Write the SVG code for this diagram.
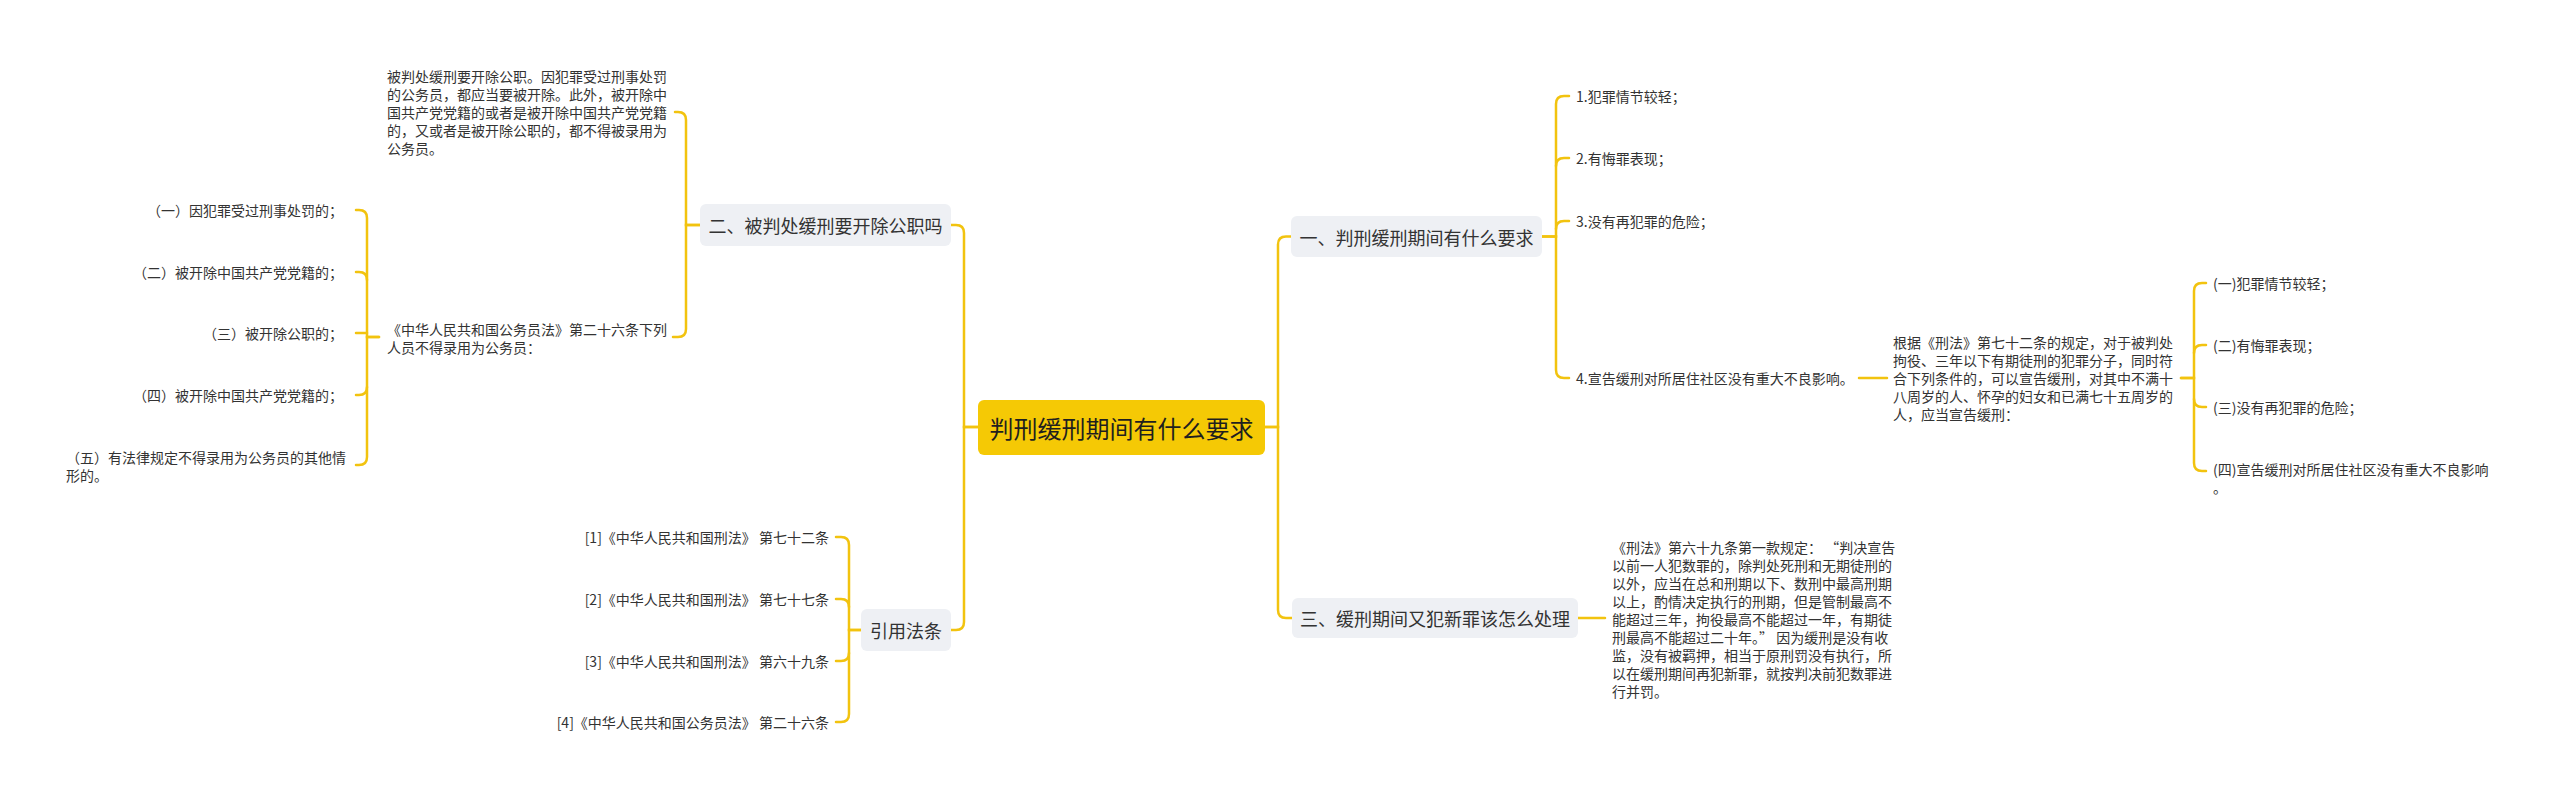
<svg xmlns="http://www.w3.org/2000/svg" width="2560" height="799" viewBox="0 0 2560 799">
<style>
text{font-family:"Noto Sans CJK SC","Noto Sans",sans-serif;fill:#333;dominant-baseline:central}
.leaf{font-size:14px}
.sub{font-size:18px}
.root{font-size:24px;fill:#1f1f1f}
.box{fill:#eef0f4}
.rootbox{fill:#f5c905}
.c{fill:none;stroke:#f2c30f;stroke-width:2.5;stroke-linecap:round}
</style>
<rect width="2560" height="799" fill="#ffffff"/>
<g id="connectors">
<path class="c" d="M978 427 H964 V233 Q964 225 956 225 H951"/>
<path class="c" d="M978 427 H964 V622 Q964 630 956 630 H951"/>
<path class="c" d="M1265 427 H1278 V244.5 Q1278 236.5 1286 236.5 H1291"/>
<path class="c" d="M1265 427 H1278 V610 Q1278 618 1286 618 H1292"/>
<path class="c" d="M700 225 H686 V120 Q686 112 678 112 H675"/>
<path class="c" d="M700 225 H686 V329 Q686 337 678 337 H673"/>
<path class="c" d="M379 337 H367 V218 Q367 210 359 210 H356"/>
<path class="c" d="M367 280 Q367 272 359 272 H356"/>
<path class="c" d="M367 333 H356"/>
<path class="c" d="M367 387 Q367 395 359 395 H356"/>
<path class="c" d="M379 337 H367 V457 Q367 465 359 465 H356"/>
<path class="c" d="M861 630 H849 V545 Q849 537 841 537 H836"/>
<path class="c" d="M849 607 Q849 599 841 599 H836"/>
<path class="c" d="M849 653 Q849 661 841 661 H836"/>
<path class="c" d="M861 630 H849 V714 Q849 722 841 722 H836"/>
<path class="c" d="M1542 236.5 H1556 V104 Q1556 96 1564 96 H1569"/>
<path class="c" d="M1556 166 Q1556 158 1564 158 H1569"/>
<path class="c" d="M1556 229 Q1556 221 1564 221 H1569"/>
<path class="c" d="M1542 236.5 H1556 V370 Q1556 378 1564 378 H1569"/>
<path class="c" d="M1859 378 H1887"/>
<path class="c" d="M2181 378 H2194 V291 Q2194 283 2202 283 H2206"/>
<path class="c" d="M2194 353 Q2194 345 2202 345 H2206"/>
<path class="c" d="M2194 399 Q2194 407 2202 407 H2206"/>
<path class="c" d="M2181 378 H2194 V463 Q2194 471 2202 471 H2206"/>
<path class="c" d="M1578 618 H1605"/>
</g>
<g id="root">
<rect class="rootbox" x="978" y="400" width="287" height="55" rx="6"/>
<text class="root" x="1121.5" y="427.5" text-anchor="middle">判刑缓刑期间有什么要求</text>
</g>
<g id="n2">
<rect class="box" x="700" y="204" width="251" height="42" rx="6"/>
<text class="sub" x="825.5" y="225" text-anchor="middle">二、被判处缓刑要开除公职吗</text>
</g>
<g id="n2a">
<text class="leaf" x="387" y="76">被判处缓刑要开除公职。因犯罪受过刑事处罚</text>
<text class="leaf" x="387" y="94">的公务员，都应当要被开除。此外，被开除中</text>
<text class="leaf" x="387" y="112">国共产党党籍的或者是被开除中国共产党党籍</text>
<text class="leaf" x="387" y="130">的，又或者是被开除公职的，都不得被录用为</text>
<text class="leaf" x="387" y="148">公务员。</text>
</g>
<g id="n2b">
<text class="leaf" x="387" y="329">《中华人民共和国公务员法》第二十六条下列</text>
<text class="leaf" x="387" y="347">人员不得录用为公务员：</text>
</g>
<g id="n2b1"><text class="leaf" x="343" y="210" text-anchor="end">（一）因犯罪受过刑事处罚的；</text></g>
<g id="n2b2"><text class="leaf" x="343" y="272" text-anchor="end">（二）被开除中国共产党党籍的；</text></g>
<g id="n2b3"><text class="leaf" x="343" y="333" text-anchor="end">（三）被开除公职的；</text></g>
<g id="n2b4"><text class="leaf" x="343" y="395" text-anchor="end">（四）被开除中国共产党党籍的；</text></g>
<g id="n2b5">
<text class="leaf" x="66" y="457">（五）有法律规定不得录用为公务员的其他情</text>
<text class="leaf" x="66" y="475">形的。</text>
</g>
<g id="n4">
<rect class="box" x="861" y="609" width="90" height="42" rx="6"/>
<text class="sub" x="906" y="630" text-anchor="middle">引用法条</text>
</g>
<g id="n4a"><text class="leaf" x="829" y="537" text-anchor="end">[1]《中华人民共和国刑法》 第七十二条</text></g>
<g id="n4b"><text class="leaf" x="829" y="599" text-anchor="end">[2]《中华人民共和国刑法》 第七十七条</text></g>
<g id="n4c"><text class="leaf" x="829" y="661" text-anchor="end">[3]《中华人民共和国刑法》 第六十九条</text></g>
<g id="n4d"><text class="leaf" x="829" y="722" text-anchor="end">[4]《中华人民共和国公务员法》 第二十六条</text></g>
<g id="n1">
<rect class="box" x="1291" y="216" width="251" height="41" rx="6"/>
<text class="sub" x="1416.5" y="236.5" text-anchor="middle">一、判刑缓刑期间有什么要求</text>
</g>
<g id="n1a"><text class="leaf" x="1576" y="96">1.犯罪情节较轻；</text></g>
<g id="n1b"><text class="leaf" x="1576" y="158">2.有悔罪表现；</text></g>
<g id="n1c"><text class="leaf" x="1576" y="221">3.没有再犯罪的危险；</text></g>
<g id="n1d"><text class="leaf" x="1576" y="378">4.宣告缓刑对所居住社区没有重大不良影响。</text></g>
<g id="n1d1">
<text class="leaf" x="1893" y="342">根据《刑法》第七十二条的规定，对于被判处</text>
<text class="leaf" x="1893" y="360">拘役、三年以下有期徒刑的犯罪分子，同时符</text>
<text class="leaf" x="1893" y="378">合下列条件的，可以宣告缓刑，对其中不满十</text>
<text class="leaf" x="1893" y="396">八周岁的人、怀孕的妇女和已满七十五周岁的</text>
<text class="leaf" x="1893" y="414">人，应当宣告缓刑：</text>
</g>
<g id="n1d1a"><text class="leaf" x="2213" y="283">(一)犯罪情节较轻；</text></g>
<g id="n1d1b"><text class="leaf" x="2213" y="345">(二)有悔罪表现；</text></g>
<g id="n1d1c"><text class="leaf" x="2213" y="407">(三)没有再犯罪的危险；</text></g>
<g id="n1d1d">
<text class="leaf" x="2213" y="469">(四)宣告缓刑对所居住社区没有重大不良影响</text>
<text class="leaf" x="2213" y="487">。</text>
</g>
<g id="n3">
<rect class="box" x="1292" y="598" width="286" height="40" rx="6"/>
<text class="sub" x="1435" y="618" text-anchor="middle">三、缓刑期间又犯新罪该怎么处理</text>
</g>
<g id="n3a">
<text class="leaf" x="1612" y="547">《刑法》第六十九条第一款规定： “判决宣告</text>
<text class="leaf" x="1612" y="565">以前一人犯数罪的，除判处死刑和无期徒刑的</text>
<text class="leaf" x="1612" y="583">以外，应当在总和刑期以下、数刑中最高刑期</text>
<text class="leaf" x="1612" y="601">以上，酌情决定执行的刑期，但是管制最高不</text>
<text class="leaf" x="1612" y="619">能超过三年，拘役最高不能超过一年，有期徒</text>
<text class="leaf" x="1612" y="637">刑最高不能超过二十年。” 因为缓刑是没有收</text>
<text class="leaf" x="1612" y="655">监，没有被羁押，相当于原刑罚没有执行，所</text>
<text class="leaf" x="1612" y="673">以在缓刑期间再犯新罪，就按判决前犯数罪进</text>
<text class="leaf" x="1612" y="691">行并罚。</text>
</g>
</svg>
